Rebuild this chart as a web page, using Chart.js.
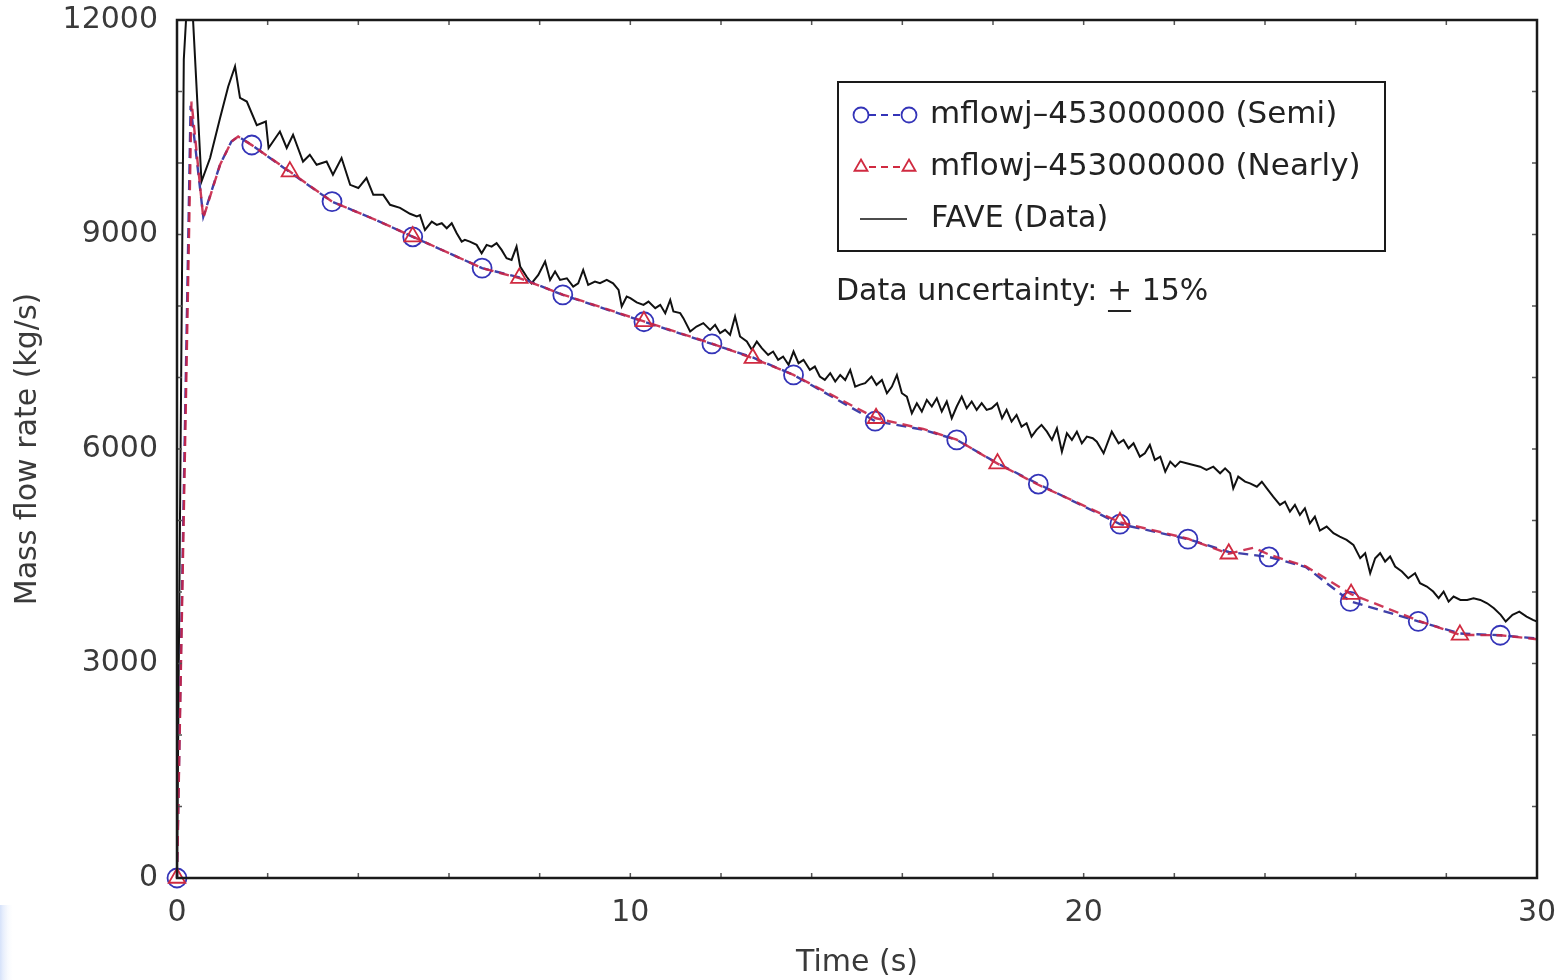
<!DOCTYPE html>
<html>
<head>
<meta charset="utf-8">
<script src="https://cdn.jsdelivr.net/npm/chart.js@4.4.1/dist/chart.umd.min.js"></script>
<style>
html, body { margin: 0; padding: 0; background: #fff; }
#wrap { width: 1564px; height: 980px; }
</style>
</head>
<body>
<div id="wrap"><canvas id="myChart" width="1564" height="980"></canvas></div>
<script>
// RELAP-style mass flow comparison (mflowj-453000000 vs FAVE data)

const xTicks = [0, 10, 20, 30];
const yTicks = [0, 3000, 6000, 9000, 12000];

// Semi-implicit run (blue circles)
const semiTime = [0, 0.3, 0.58, 0.95, 1.2, 1.35, 1.65, 2.49, 3.42, 4.4, 5.2, 6.73, 7.55, 8.51, 10.3, 11.8, 12.7, 13.6, 15.4, 16.46, 17.2, 18.1, 19.0, 20.8, 22.3, 23.2, 24.09, 24.9, 25.88, 27.38, 28.3, 29.19, 30];
const semiFlow = [0, 10800, 9250, 9980, 10300, 10370, 10252, 9870, 9460, 9200, 8968, 8530, 8400, 8155, 7780, 7470, 7280, 7036, 6390, 6270, 6127, 5800, 5510, 4950, 4740, 4560, 4490, 4350, 3870, 3590, 3420, 3395, 3350];
const semiMarkers = [0, 1.65, 3.42, 5.2, 6.73, 8.51, 10.3, 11.8, 13.6, 15.4, 17.2, 19.0, 20.8, 22.3, 24.09, 25.88, 27.38, 29.19];

// Nearly-implicit run (red triangles)
const nearlyTime = [0, 0.32, 0.58, 0.95, 1.2, 1.35, 1.65, 2.49, 3.42, 4.4, 5.2, 6.73, 7.55, 8.51, 10.3, 11.8, 12.7, 13.6, 15.42, 16.46, 17.2, 18.1, 19.0, 20.8, 22.3, 23.2, 23.75, 24.1, 24.9, 25.9, 27.38, 28.3, 29.19, 30];
const nearlyFlow = [0, 10860, 9230, 9975, 10300, 10370, 10250, 9880, 9460, 9200, 8970, 8530, 8390, 8160, 7785, 7475, 7270, 7036, 6430, 6280, 6130, 5795, 5500, 4975, 4745, 4535, 4620, 4520, 4360, 3970, 3600, 3400, 3395, 3340];
const nearlyMarkers = [0, 2.49, 5.2, 7.55, 10.3, 12.7, 15.42, 18.1, 20.8, 23.2, 25.9, 28.3];

// FAVE measured data (black)
const faveTime = [0, 0.15, 0.28, 0.54, 0.73, 0.95, 1.13, 1.28, 1.39, 1.54, 1.76, 1.96, 2.02, 2.27, 2.42, 2.56, 2.78, 2.93, 3.08, 3.3, 3.44, 3.63, 3.82, 4.0, 4.18, 4.33, 4.55, 4.7, 4.92,
  5.14, 5.29, 5.36, 5.47, 5.62, 5.73, 5.84, 5.95, 6.06, 6.17, 6.28, 6.35, 6.46, 6.61, 6.72, 6.83, 6.94, 7.05, 7.16, 7.27, 7.38, 7.49, 7.57, 7.71, 7.82, 7.97,
  8.12, 8.23, 8.34, 8.45, 8.6, 8.74, 8.85, 8.96, 9.07, 9.22, 9.33, 9.48, 9.62, 9.74, 9.81, 9.92, 10.0, 10.14, 10.29, 10.4, 10.55, 10.66, 10.77, 10.88, 10.95,
  11.1, 11.17, 11.32, 11.46, 11.61, 11.76, 11.87, 11.98, 12.09, 12.2, 12.31, 12.42, 12.57, 12.68, 12.79, 12.9, 13.04, 13.15, 13.26, 13.37, 13.49, 13.6, 13.71, 13.82, 13.96,
  14.07, 14.18, 14.29, 14.41, 14.52, 14.63, 14.74, 14.85, 14.96, 15.07, 15.18, 15.32, 15.43, 15.55, 15.66, 15.77, 15.88, 15.99, 16.1, 16.21, 16.32, 16.43, 16.54, 16.65, 16.76, 16.87, 16.98,
  17.09, 17.2, 17.31, 17.42, 17.53, 17.64, 17.75, 17.86, 17.97, 18.09, 18.2, 18.3, 18.41, 18.52, 18.63, 18.74, 18.85, 18.96, 19.07, 19.19, 19.3, 19.41, 19.52, 19.63, 19.74, 19.85, 19.96,
  20.07, 20.2, 20.29, 20.44, 20.62, 20.77, 20.88, 20.99, 21.1, 21.24, 21.35, 21.46, 21.57, 21.69, 21.8, 21.91, 22.02, 22.13, 22.27, 22.42, 22.57, 22.71, 22.86,
  23.01, 23.12, 23.23, 23.3, 23.41, 23.56, 23.67, 23.82, 23.93, 24.04, 24.18, 24.33, 24.44, 24.55, 24.66, 24.77, 24.88, 24.99, 25.1, 25.21, 25.36, 25.51, 25.65, 25.8, 25.95,
  26.1, 26.21, 26.32, 26.43, 26.54, 26.65, 26.76, 26.87, 27.02, 27.16, 27.31, 27.42, 27.57, 27.71, 27.83, 27.94, 28.05, 28.16, 28.31, 28.46, 28.6, 28.75, 28.9,
  29.05, 29.2, 29.31, 29.46, 29.61, 29.77, 29.91, 30];
const faveFlow = [0, 11450, 12900, 9740, 10070, 10630, 11070, 11350, 10910, 10860, 10530, 10580, 10210, 10440, 10210, 10395, 10020, 10115, 9975, 10020, 9835, 10070, 9695, 9650, 9790, 9555, 9555, 9415, 9373,
  9290, 9252, 9270, 9063, 9180, 9135, 9158, 9087, 9158, 9018, 8901, 8925, 8901, 8855, 8738, 8855, 8830, 8878, 8785, 8668, 8645, 8831, 8552, 8412, 8318, 8435,
  8622, 8365, 8482, 8365, 8388, 8272, 8318, 8505, 8295, 8342, 8318, 8365, 8318, 8225, 7993, 8132, 8110, 8050, 8016, 8062, 7970, 8016, 7900, 8085, 7923,
  7900, 7830, 7643, 7713, 7760, 7666, 7736, 7620, 7666, 7596, 7853, 7573, 7503, 7387, 7503, 7410, 7316, 7363, 7247, 7293, 7177, 7363, 7200, 7247, 7107,
  7153, 7013, 6966, 7060, 6943, 7036, 6966, 7107, 6873, 6900, 6920, 7013, 6897, 6966, 6780, 6873, 7036, 6780, 6733, 6500, 6640, 6524, 6687, 6594, 6710, 6524, 6664,
  6430, 6594, 6733, 6570, 6664, 6547, 6640, 6547, 6570, 6640, 6430, 6547, 6383, 6477, 6313, 6360, 6173, 6267, 6337, 6243, 6127, 6290, 5963, 6220, 6127, 6243, 6080,
  6173, 6150, 6103, 5940, 6243, 6080, 6127, 6010, 6080, 5893, 5940, 6057, 5847, 5893, 5683, 5823, 5753, 5823, 5800, 5777, 5753, 5707, 5753,
  5660, 5730, 5660, 5450, 5613, 5543, 5520, 5473, 5543, 5450, 5333, 5218, 5264, 5124, 5218, 5078, 5171, 4961, 5054, 4860, 4915, 4822, 4775, 4729, 4659,
  4473, 4543, 4263, 4473, 4543, 4426, 4496, 4356, 4286, 4193, 4263, 4123, 4076, 4006, 3913, 4006, 3866, 3936, 3889, 3889, 3913, 3889, 3842,
  3773, 3680, 3587, 3680, 3726, 3657, 3610, 3587];

const BLUE = '#3434b8';
const RED = '#d02a40';
const FONT = '"DejaVu Sans", sans-serif';

function toPoints(t, v) {
  return t.map((x, i) => ({ x: x, y: v[i] }));
}

// frame, inward minor ticks, legend box and note
const framePlugin = {
  id: 'frame',
  afterDraw(chart) {
    const c = chart.ctx;
    const a = chart.chartArea;
    const sx = chart.scales.x, sy = chart.scales.y;
    c.save();

    // faint bluish corner bottom-left
    const g = c.createLinearGradient(0, 0, 14, 0);
    g.addColorStop(0, 'rgba(214,226,250,1)');
    g.addColorStop(1, 'rgba(255,255,255,0)');
    c.fillStyle = g;
    c.fillRect(0, 905, 14, 75);

    c.strokeStyle = '#555';
    c.lineWidth = 1.5;
    c.beginPath();
    for (let v = 0; v <= 30; v += 2) {
      const px = sx.getPixelForValue(v);
      c.moveTo(px, a.bottom); c.lineTo(px, a.bottom - 5);
      c.moveTo(px, a.top); c.lineTo(px, a.top + 5);
    }
    for (let v = 0; v <= 12000; v += 1000) {
      const py = sy.getPixelForValue(v);
      c.moveTo(a.left, py); c.lineTo(a.left + 5, py);
      c.moveTo(a.right, py); c.lineTo(a.right - 5, py);
    }
    c.stroke();

    c.strokeStyle = '#1a1a1a';
    c.lineWidth = 2.5;
    c.strokeRect(a.left, a.top, a.right - a.left, a.bottom - a.top);

    // legend
    c.fillStyle = '#fff';
    c.fillRect(838, 82, 547, 169);
    c.strokeStyle = '#1a1a1a';
    c.lineWidth = 2;
    c.strokeRect(838, 82, 547, 169);

    const rows = [
      { y: 115, color: BLUE, style: 'circle', text: 'mflowj\u2013453000000 (Semi)' },
      { y: 167, color: RED, style: 'triangle', text: 'mflowj\u2013453000000 (Nearly)' }
    ];
    rows.forEach(r => {
      c.strokeStyle = r.color;
      c.lineWidth = 1.8;
      c.setLineDash([7, 5]);
      c.beginPath(); c.moveTo(869, r.y); c.lineTo(902, r.y); c.stroke();
      c.setLineDash([]);
      c.fillStyle = 'rgba(0,0,0,0)';
      Chart.helpers.drawPoint(c, { pointStyle: r.style, radius: 7.5, rotation: 0, borderWidth: 1.8 }, 861, r.y);
      Chart.helpers.drawPoint(c, { pointStyle: r.style, radius: 7.5, rotation: 0, borderWidth: 1.8 }, 909, r.y);
      c.fillStyle = '#222';
      c.font = '31px ' + FONT;
      c.textBaseline = 'middle';
      c.textAlign = 'left';
      c.fillText(r.text, 930, r.y);
    });
    c.strokeStyle = '#111';
    c.lineWidth = 1.5;
    c.beginPath(); c.moveTo(860, 219); c.lineTo(907, 219); c.stroke();
    c.fillStyle = '#222';
    c.font = '30px ' + FONT;
    c.fillText('FAVE (Data)', 931, 219);

    // note
    const left = 'Data uncertainty: ';
    c.fillText(left, 836, 292);
    const w1 = c.measureText(left).width;
    c.fillText('+', 836 + w1, 292);
    const wp = c.measureText('+').width;
    c.fillRect(836 + w1 + 1, 310, wp - 2, 2);
    c.fillText(' 15%', 836 + w1 + wp, 292);

    c.restore();
  }
};

const ctx = document.getElementById('myChart').getContext('2d');
const myChart = new Chart(ctx, {
  type: 'line',
  data: {
    datasets: [
      {
        label: 'mflowj-453000000 (Nearly)',
        data: toPoints(nearlyTime, nearlyFlow),
        borderColor: 'rgba(200,36,70,0.9)',
        borderWidth: 2.4,
        borderDash: [10, 6],
        pointStyle: 'triangle',
        pointRadius: c => nearlyMarkers.includes(nearlyTime[c.dataIndex]) ? 9.5 : 0,
        pointBorderColor: RED,
        pointBackgroundColor: 'rgba(0,0,0,0)',
        pointBorderWidth: 1.8,
        clip: false
      },
      {
        label: 'mflowj-453000000 (Semi)',
        data: toPoints(semiTime, semiFlow),
        borderColor: '#4040a8',
        borderWidth: 2.4,
        borderDash: [10, 6],
        pointStyle: 'circle',
        pointRadius: c => semiMarkers.includes(semiTime[c.dataIndex]) ? 9.5 : 0,
        pointBorderColor: BLUE,
        pointBackgroundColor: 'rgba(0,0,0,0)',
        pointBorderWidth: 1.8,
        clip: false
      },
      {
        label: 'FAVE (Data)',
        data: toPoints(faveTime, faveFlow),
        borderColor: '#111',
        borderWidth: 2,
        pointRadius: 0
      }
    ]
  },
  options: {
    responsive: false,
    devicePixelRatio: 1,
    animation: false,
    events: [],
    layout: { padding: { top: 20, right: 27, left: 0, bottom: 0 } },
    plugins: {
      legend: { display: false },
      tooltip: { enabled: false }
    },
    scales: {
      x: {
        type: 'linear',
        min: 0,
        max: 30,
        afterBuildTicks: s => { s.ticks = xTicks.map(v => ({ value: v })); },
        afterFit: s => { s.height = 102; s.paddingLeft = 0; s.paddingRight = 0; },
        grid: { display: false, drawTicks: false },
        border: { display: false },
        ticks: { font: { family: FONT, size: 30 }, color: '#3a3a3a', padding: 17, maxRotation: 0, callback: v => String(v) },
        title: { display: true, text: 'Time (s)', font: { family: FONT, size: 30, lineHeight: 1.1 }, color: '#3a3a3a', padding: { top: 0, bottom: 0 } }
      },
      y: {
        type: 'linear',
        min: 0,
        max: 12000,
        afterBuildTicks: s => { s.ticks = yTicks.map(v => ({ value: v })); },
        afterFit: s => { s.width = 177; s.paddingTop = 0; s.paddingBottom = 0; },
        grid: { display: false, drawTicks: false },
        border: { display: false },
        ticks: { font: { family: FONT, size: 30 }, color: '#3a3a3a', padding: 19, callback: v => String(v) },
        title: { display: true, text: 'Mass flow rate (kg/s)', font: { family: FONT, size: 30, lineHeight: 1.2 }, color: '#3a3a3a', padding: { top: 10, bottom: 0 } }
      }
    }
  },
  plugins: [framePlugin]
});
</script>
</body>
</html>
